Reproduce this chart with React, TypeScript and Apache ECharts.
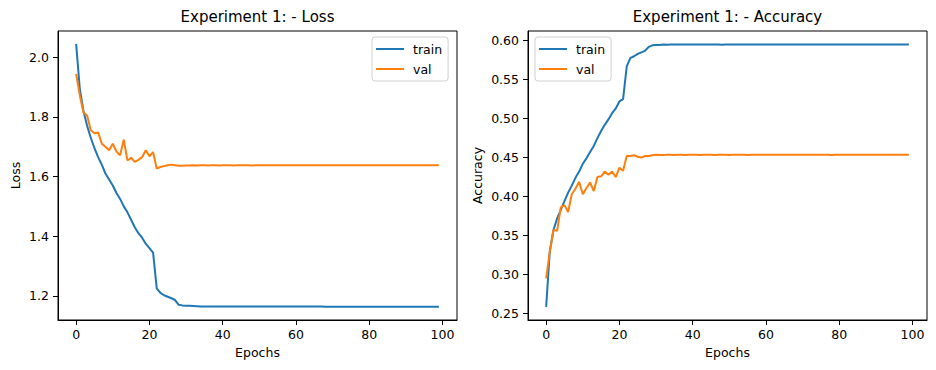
import React, { useEffect, useRef } from "react";
import * as echarts from "echarts";

const epochs: number[] = Array.from({ length: 100 }, (_, i) => i);

const trainLoss: number[] = [
  2.045, 1.894, 1.82, 1.77, 1.73, 1.695, 1.665, 1.64, 1.61, 1.59,
  1.57, 1.545, 1.525, 1.5, 1.48, 1.455, 1.43, 1.41, 1.395, 1.375,
  1.36, 1.345, 1.225, 1.21, 1.202, 1.197, 1.192, 1.186, 1.17, 1.168,
  1.167, 1.167, 1.166, 1.165, 1.164, 1.164, 1.164, 1.164, 1.164, 1.164,
  1.164, 1.164, 1.164, 1.164, 1.164, 1.164, 1.164, 1.164, 1.164, 1.164,
  1.164, 1.164, 1.164, 1.164, 1.164, 1.164, 1.164, 1.164, 1.164, 1.164,
  1.164, 1.164, 1.164, 1.164, 1.164, 1.164, 1.164, 1.164, 1.1638, 1.1638,
  1.1638, 1.1638, 1.1638, 1.1638, 1.1638, 1.1636, 1.1636, 1.1636, 1.1636, 1.1636,
  1.1636, 1.1636, 1.1636, 1.1634, 1.1634, 1.1634, 1.1634, 1.1634, 1.1634, 1.1634,
  1.1634, 1.1632, 1.1632, 1.1632, 1.1632, 1.1632, 1.1632, 1.1632, 1.1632, 1.1632,
];

const valLoss: number[] = [
  1.944, 1.872, 1.815, 1.805, 1.755, 1.745, 1.748, 1.71, 1.7, 1.688,
  1.71, 1.684, 1.671, 1.724, 1.654, 1.663, 1.649, 1.656, 1.665, 1.688,
  1.668, 1.682, 1.627, 1.632, 1.635, 1.638, 1.64, 1.638, 1.636, 1.636,
  1.637, 1.637, 1.6375, 1.6372, 1.6375, 1.6375, 1.6373, 1.6375, 1.6375, 1.6374,
  1.6375, 1.6375, 1.6375, 1.6374, 1.6375, 1.6375, 1.6375, 1.6375, 1.6374, 1.6375,
  1.6375, 1.6375, 1.6375, 1.6376, 1.6375, 1.6375, 1.6375, 1.6375, 1.6376, 1.6375,
  1.6375, 1.6375, 1.6375, 1.6375, 1.6375, 1.6376, 1.6375, 1.6375, 1.6375, 1.6375,
  1.6375, 1.6375, 1.6375, 1.6375, 1.6375, 1.6375, 1.6375, 1.6375, 1.6375, 1.6375,
  1.6375, 1.6375, 1.6375, 1.6375, 1.6375, 1.6375, 1.6375, 1.6375, 1.6375, 1.6375,
  1.6375, 1.6375, 1.6375, 1.6375, 1.6375, 1.6375, 1.6375, 1.6375, 1.6375, 1.6375,
];

const trainAcc: number[] = [
  0.2585, 0.33, 0.357, 0.372, 0.383, 0.394, 0.405, 0.414, 0.424, 0.432,
  0.442, 0.449, 0.457, 0.465, 0.475, 0.484, 0.492, 0.499, 0.507, 0.513,
  0.522, 0.525, 0.567, 0.578, 0.58, 0.583, 0.585, 0.587, 0.592, 0.594,
  0.5945, 0.5945, 0.595, 0.5948, 0.595, 0.595, 0.595, 0.595, 0.5951, 0.595,
  0.595, 0.5952, 0.595, 0.595, 0.595, 0.5951, 0.595, 0.595, 0.5949, 0.595,
  0.595, 0.595, 0.5951, 0.595, 0.595, 0.595, 0.595, 0.5952, 0.595, 0.595,
  0.595, 0.595, 0.595, 0.5951, 0.595, 0.595, 0.595, 0.595, 0.595, 0.595,
  0.595, 0.5951, 0.595, 0.595, 0.595, 0.595, 0.595, 0.595, 0.5952, 0.595,
  0.595, 0.595, 0.595, 0.595, 0.5951, 0.595, 0.595, 0.595, 0.595, 0.595,
  0.595, 0.595, 0.5951, 0.595, 0.595, 0.595, 0.595, 0.595, 0.5951, 0.595,
];

const valAcc: number[] = [
  0.295, 0.329, 0.357, 0.356, 0.386, 0.389, 0.38, 0.403, 0.41, 0.419,
  0.403, 0.411, 0.418, 0.407, 0.425, 0.426, 0.432, 0.428, 0.432, 0.425,
  0.437, 0.433, 0.452, 0.452, 0.453, 0.451, 0.45, 0.452, 0.452, 0.453,
  0.4535, 0.4532, 0.4533, 0.4535, 0.4535, 0.4534, 0.4535, 0.4535, 0.4533, 0.4535,
  0.4535, 0.4535, 0.4534, 0.4535, 0.4535, 0.4535, 0.4533, 0.4535, 0.4535, 0.4535,
  0.4534, 0.4535, 0.4535, 0.4535, 0.4535, 0.4533, 0.4535, 0.4535, 0.4536, 0.4535,
  0.4535, 0.4535, 0.4535, 0.4536, 0.4535, 0.4537, 0.4535, 0.4535, 0.4535, 0.4535,
  0.4535, 0.4535, 0.4536, 0.4535, 0.4535, 0.4535, 0.4535, 0.4535, 0.4534, 0.4535,
  0.4535, 0.4535, 0.4535, 0.4535, 0.4535, 0.4535, 0.4535, 0.4535, 0.4535, 0.4535,
  0.4535, 0.4535, 0.4535, 0.4535, 0.4535, 0.4535, 0.4535, 0.4535, 0.4535, 0.4535,
];

const xTicks: number[] = [0, 20, 40, 60, 80, 100];
const lossTicks: number[] = [1.2, 1.4, 1.6, 1.8, 2.0];
const accTicks: number[] = [0.25, 0.3, 0.35, 0.4, 0.45, 0.5, 0.55, 0.6];

const titles: string[] = ["Experiment 1: - Loss", "Experiment 1: - Accuracy"];
const yNames: string[] = ["Loss", "Accuracy"];
const seriesNames: string[] = ["train", "val"];

const BLUE = "#1f77b4";
const ORANGE = "#ff7f0e";
const FONT = "DejaVu Sans";
const FS = 12.5;

function pairs(vals: number[]): number[][] {
  return epochs.map((e, i) => [e, vals[i]]);
}

export default function App() {
  const ref = useRef<HTMLDivElement>(null);
  useEffect(() => {
    if (!ref.current) return;
    const chart = echarts.init(ref.current, undefined, { renderer: "svg" });
    const grids = [
      { left: 58, top: 31, width: 399, height: 289 },
      { left: 528, top: 31, width: 399, height: 289 },
    ];
    const tickStyle = (vals: number[]) => ({
      show: true,
      inside: false,
      length: 5,
      lineStyle: { color: "#000", width: 1 },
      customValues: vals,
    });
    const xAxis = grids.map((_, i) => ({
      type: "value",
      gridIndex: i,
      position: "bottom",
      min: -4.95,
      max: 103.95,
      name: "Epochs",
      nameLocation: "middle",
      nameGap: 26,
      nameTextStyle: { fontFamily: FONT, fontSize: FS, color: "#000" },
      axisLine: { show: true, onZero: false, lineStyle: { color: "#000", width: 1 } },
      splitLine: { show: false },
      axisTick: tickStyle(xTicks),
      axisLabel: {
        fontFamily: FONT,
        fontSize: FS,
        color: "#000",
        margin: 8,
        customValues: xTicks,
        formatter: (v: number) => String(Math.round(v)),
      },
    }));
    const yAxis = [
      {
        type: "value",
        gridIndex: 0,
        position: "left",
        min: 1.119,
        max: 2.088,
        name: yNames[0],
        nameLocation: "middle",
        nameGap: 36,
        nameTextStyle: { fontFamily: FONT, fontSize: FS, color: "#000" },
        axisLine: { show: true, onZero: false, lineStyle: { color: "#000", width: 1 } },
        splitLine: { show: false },
        axisTick: tickStyle(lossTicks),
        axisLabel: {
          fontFamily: FONT,
          fontSize: FS,
          color: "#000",
          margin: 9,
          customValues: lossTicks,
          formatter: (v: number) => v.toFixed(1),
        },
      },
      {
        type: "value",
        gridIndex: 1,
        position: "left",
        min: 0.2416,
        max: 0.6124,
        name: yNames[1],
        nameLocation: "middle",
        nameGap: 44,
        nameTextStyle: { fontFamily: FONT, fontSize: FS, color: "#000" },
        axisLine: { show: true, onZero: false, lineStyle: { color: "#000", width: 1 } },
        splitLine: { show: false },
        axisTick: tickStyle(accTicks),
        axisLabel: {
          fontFamily: FONT,
          fontSize: FS,
          color: "#000",
          margin: 9,
          customValues: accTicks,
          formatter: (v: number) => v.toFixed(2),
        },
      },
    ];
    const mk = (name: string, vals: number[], idx: number, color: string) => ({
      type: "line",
      name,
      xAxisIndex: idx,
      yAxisIndex: idx,
      data: pairs(vals),
      symbol: "none",
      showSymbol: false,
      lineStyle: { color, width: 2 },
      itemStyle: { color },
      z: color === BLUE ? 3 : 4,
    });
    const legendBase = {
      orient: "vertical",
      icon: "rect",
      itemWidth: 28,
      itemHeight: 2,
      itemGap: 6,
      padding: [5, 6, 5, 4],
      backgroundColor: "#fff",
      borderColor: "#d0d0d0",
      borderWidth: 1,
      borderRadius: 3,
      textStyle: { fontFamily: FONT, fontSize: FS, color: "#000", lineHeight: 14, padding: [0, 0, 0, 4] },
      data: seriesNames,
    };
    chart.setOption({
      animation: false,
      backgroundColor: "#fff",
      title: titles.map((t, i) => ({
        text: t,
        left: grids[i].left + grids[i].width / 2,
        top: 9,
        textAlign: "center",
        padding: 0,
        textStyle: { fontFamily: FONT, fontSize: 15, fontWeight: "normal", color: "#000" },
      })),
      grid: grids.map((g) => ({
        ...g,
        show: true,
        borderColor: "#000",
        borderWidth: 1,
        backgroundColor: "transparent",
      })),
      legend: [
        { ...legendBase, left: 372, top: 37 },
        { ...legendBase, left: 535, top: 37 },
      ],
      xAxis,
      yAxis,
      series: [
        mk(seriesNames[0], trainLoss, 0, BLUE),
        mk(seriesNames[1], valLoss, 0, ORANGE),
        mk(seriesNames[0], trainAcc, 1, BLUE),
        mk(seriesNames[1], valAcc, 1, ORANGE),
      ],
    });
    return () => chart.dispose();
  }, []);
  return (
    <div
      ref={ref}
      style={{ position: "fixed", left: 0, top: 0, width: 936, height: 370, background: "#fff" }}
    />
  );
}
